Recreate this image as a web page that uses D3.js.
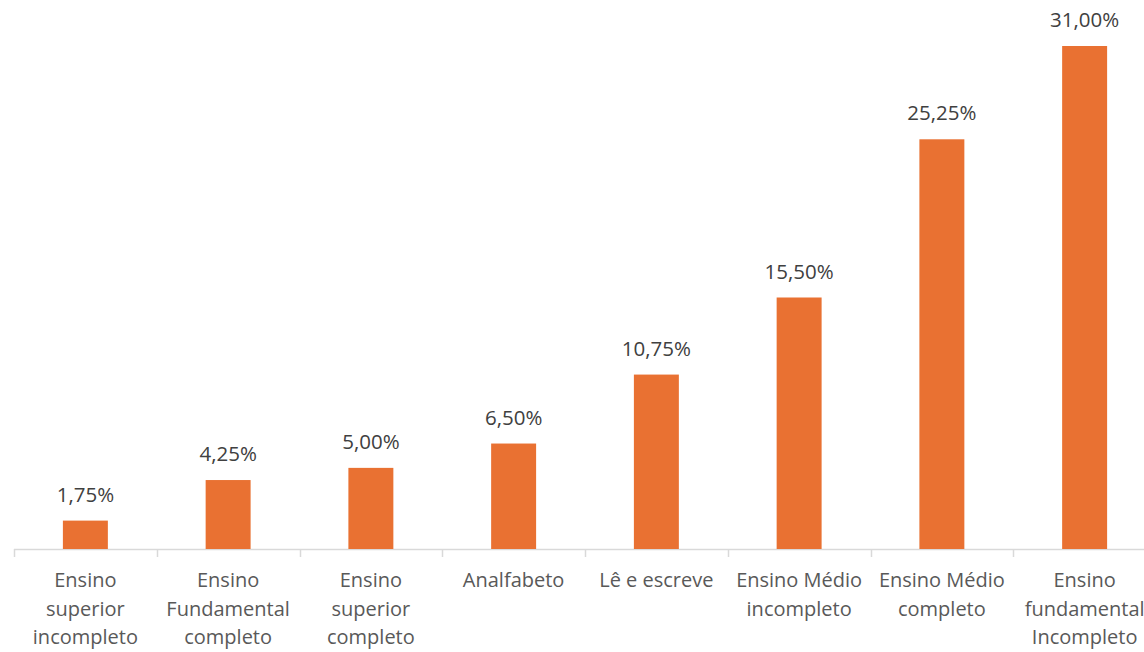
<!DOCTYPE html>
<html><head><meta charset="utf-8">
<script src="https://cdn.jsdelivr.net/npm/d3@7"></script>
<style>body{margin:0;background:#fff;} text{font-family:"Open Sans","Noto Sans",sans-serif;}</style>
</head><body>
<svg id="c" width="1144" height="652"></svg>
<script>
const categories = [
  ["Ensino","superior","incompleto"],
  ["Ensino","Fundamental","completo"],
  ["Ensino","superior","completo"],
  ["Analfabeto"],
  ["Lê e escreve"],
  ["Ensino Médio","incompleto"],
  ["Ensino Médio","completo"],
  ["Ensino","fundamental","Incompleto"]
];
const values = [1.75, 4.25, 5.00, 6.50, 10.75, 15.50, 25.25, 31.00];
const valueLabels = ["1,75%","4,25%","5,00%","6,50%","10,75%","15,50%","25,25%","31,00%"];

const svg = d3.select("#c");
const keys = categories.map((c,i)=>i);
const x = d3.scaleBand().domain(keys).range([14, 1156]).paddingInner(0.685).paddingOuter(0.3425);
const y = d3.scaleLinear().domain([0, 31]).range([549, 46]);

const axisG = svg.append("g");
axisG.append("line").attr("x1",14).attr("x2",1156).attr("y1",549.5).attr("y2",549.5)
  .attr("stroke","#d9d9d9").attr("stroke-width",1.5);
const step = x.step();
d3.range(9).forEach(i=>{
  const tx = Math.round(14 + i*step)+0.5;
  axisG.append("line").attr("x1",tx).attr("x2",tx).attr("y1",549).attr("y2",557)
    .attr("stroke","#d9d9d9").attr("stroke-width",1.5);
});

svg.selectAll("rect.bar").data(values).enter().append("rect")
  .attr("class","bar")
  .attr("x",(d,i)=>x(i)).attr("width",x.bandwidth())
  .attr("y",d=>y(d)).attr("height",d=>549-y(d))
  .attr("fill","#E97132");

svg.selectAll("text.val").data(values).enter().append("text")
  .attr("class","val")
  .attr("x",(d,i)=>x(i)+x.bandwidth()/2)
  .attr("y",d=>y(d)-19)
  .attr("text-anchor","middle")
  .attr("font-size",20.5).attr("fill","#404040")
  .text((d,i)=>valueLabels[i]);

categories.forEach((lines,i)=>{
  const t = svg.append("text")
    .attr("x", x(i)+x.bandwidth()/2).attr("y",587)
    .attr("text-anchor","middle").attr("font-size",20).attr("fill","#595959");
  lines.forEach((l,j)=>{
    t.append("tspan").attr("x", x(i)+x.bandwidth()/2).attr("dy", j===0?0:28.5).text(l);
  });
});
</script>
</body></html>
